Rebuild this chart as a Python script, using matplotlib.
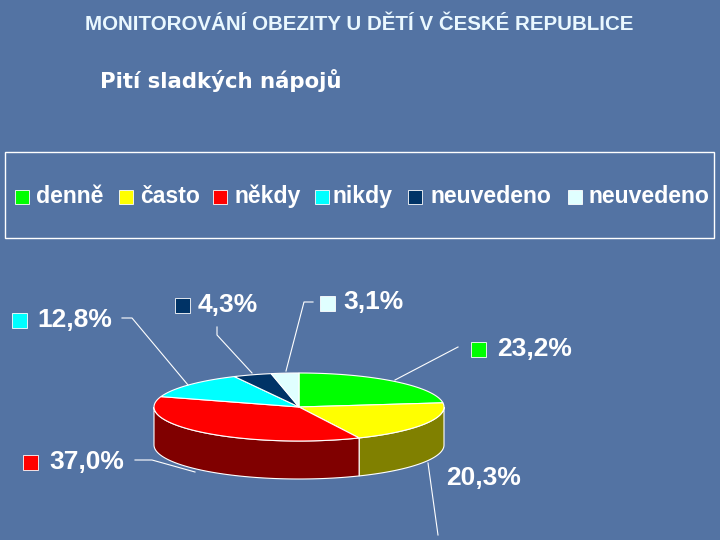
import numpy as np
import matplotlib
matplotlib.use("Agg")
import matplotlib.pyplot as plt
from matplotlib.patches import Polygon, Rectangle

# ---- data ----
title = "MONITOROVÁNÍ OBEZITY U DĚTÍ V ČESKÉ REPUBLICE"
subtitle = "Pití sladkých nápojů"
categories = ["denně", "často", "někdy", "nikdy", "neuvedeno", "neuvedeno"]
values = [23.2, 20.3, 37.0, 12.8, 4.3, 3.1]
top_colors = ["#00ff00", "#ffff00", "#ff0000", "#00ffff", "#003366", "#e0ffff"]
side_colors = ["#008000", "#808000", "#800000", "#008080", "#001a33", "#708080"]
value_labels = [f"{v:.1f}%".replace(".", ",") for v in values]

BG = "#5373a3"
fig = plt.figure(figsize=(7.2, 5.4), dpi=100, facecolor=BG)
ax = fig.add_axes([0, 0, 1, 1])
ax.set_xlim(0, 720)
ax.set_ylim(540, 0)
ax.axis("off")
ax.set_facecolor(BG)

renderer = fig.canvas.get_renderer()


def fit_text(x, y, s, target_w, **kw):
    t = ax.text(x, y, s, **kw)
    w = t.get_window_extent(renderer).width
    t.set_fontsize(t.get_fontsize() * target_w / w)
    return t


# ---- titles ----
fit_text(85, 25, title, 549, color="#eaf8ff", fontweight="bold",
         family=["Liberation Sans", "DejaVu Sans"], fontsize=14, ha="left", va="center")
fit_text(100, 81, subtitle, 243, color="white", fontweight="bold",
         family=["DejaVu Sans"], fontsize=17, ha="left", va="center")

# ---- legend ----
ax.add_patch(Rectangle((5, 152), 709, 86, fill=False, edgecolor="white", lw=1.0))
leg_sq_x = [15, 119, 213, 315, 408, 568]
leg_txt_x = [36, 140, 235, 333, 430, 588]
leg_y = 196.5
for i, name in enumerate(categories):
    ax.add_patch(Rectangle((leg_sq_x[i], leg_y - 7), 14, 14, facecolor=top_colors[i],
                           edgecolor="white", lw=0.6))
    ax.text(leg_txt_x[i], leg_y, name, color="white", fontweight="bold",
            family="Liberation Sans", fontsize=16.6, ha="left", va="center")

# ---- 3D pie ----
cx, cy, rx, ry, depth = 299, 407, 145, 34, 38
fracs = np.array(values) / np.sum(values)
start = 90.0
angles = []
for f in fracs:
    end = start - 360.0 * f
    angles.append((start, end))
    start = end


def ell(th_deg, dy=0.0):
    th = np.radians(th_deg)
    return np.column_stack([cx + rx * np.cos(th), cy - ry * np.sin(th) + dy])


# sides (front half only: 180..360 mod 360)
for i, (a, b) in enumerate(angles):
    lo, hi = b, a
    for k in (-2, -1, 0, 1):
        s0, s1 = 180 + 360 * k, 360 + 360 * k
        l, h = max(lo, s0), min(hi, s1)
        if h > l:
            th = np.linspace(l, h, 80)
            top = ell(th)
            bot = ell(th[::-1], depth)
            ax.add_patch(Polygon(np.vstack([top, bot]), closed=True,
                                 facecolor=side_colors[i], edgecolor="white", lw=0.8))

# tops
for i, (a, b) in enumerate(angles):
    th = np.linspace(a, b, 120)
    pts = np.vstack([[cx, cy], ell(th)])
    ax.add_patch(Polygon(pts, closed=True, facecolor=top_colors[i],
                         edgecolor="white", lw=0.8))

# ---- value labels with leader lines ----
lab_pos = {  # (square x, square y-center or None, text x, text y)
    0: (471, 349, 497, 349),
    1: (None, 478, 446, 478),
    2: (23, 462, 49, 462),
    3: (12, 320, 37, 320),
    4: (175, 305, 198, 305),
    5: (320, 303, 343, 302),
}
leaders = {
    0: [(458, 347), (395, 380)],
    1: [(428, 463), (438, 535)],
    2: [(135, 460), (152, 460), (195, 472)],
    3: [(122, 318), (132, 318), (188, 385)],
    4: [(217, 327), (217, 335), (252, 373)],
    5: [(313, 302), (304, 302), (286, 371)],
}
for i, lbl in enumerate(value_labels):
    sx, sy, tx, ty = lab_pos[i]
    if sx is not None:
        ax.add_patch(Rectangle((sx, sy - 7.5), 15, 15, facecolor=top_colors[i],
                               edgecolor="white", lw=0.6))
    ax.text(tx, ty, lbl, color="white", fontweight="bold", family="Liberation Sans",
            fontsize=19, ha="left", va="center")
    xs, ys = zip(*leaders[i])
    ax.plot(xs, ys, color="white", lw=0.8)

fig.savefig("out.png", dpi=100, facecolor=BG)
